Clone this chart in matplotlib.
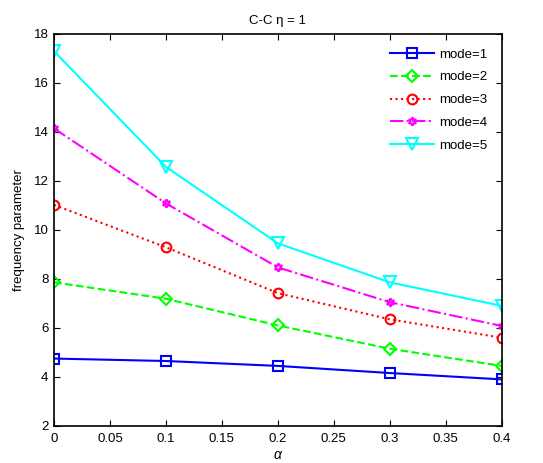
import matplotlib
matplotlib.use("Agg")
import matplotlib.pyplot as plt

plt.rcParams['font.family'] = ['Liberation Sans', 'DejaVu Sans']

alpha = [0, 0.1, 0.2, 0.3, 0.4]
mode1 = [4.75, 4.65, 4.45, 4.16, 3.90]
mode2 = [7.86, 7.19, 6.10, 5.15, 4.45]
mode3 = [11.02, 9.29, 7.42, 6.35, 5.60]
mode4 = [14.14, 11.08, 8.47, 7.05, 6.08]
mode5 = [17.29, 12.57, 9.45, 7.86, 6.90]
labels = ['mode=1', 'mode=2', 'mode=3', 'mode=4', 'mode=5']
xticks = [0, 0.05, 0.1, 0.15, 0.2, 0.25, 0.3, 0.35, 0.4]
xticklabels = ['0', '0.05', '0.1', '0.15', '0.2', '0.25', '0.3', '0.35', '0.4']
yticks = [2, 4, 6, 8, 10, 12, 14, 16, 18]

fig = plt.figure(figsize=(5.43, 4.63), dpi=100)
ax = fig.add_axes([0.0995, 0.080, 0.8245, 0.847])

styles = [
    dict(color='#0000ff', linestyle='-', marker='s'),
    dict(color='#00ff00', linestyle='--', marker='D', markersize=6),
    dict(color='#ff0000', linestyle=':', marker='o'),
    dict(color='#ff00ff', linestyle='-.', marker=(6, 1, 0), markersize=6),
    dict(color='#00ffff', linestyle='-', marker='v', markersize=8),
]
for ys, lab, st in zip([mode1, mode2, mode3, mode4, mode5], labels, styles):
    kw = dict(linewidth=1.5, markerfacecolor='none', markeredgewidth=1.5, markersize=7)
    kw.update(st)
    ax.plot(alpha, ys, label=lab, **kw)

ax.set_xlim(0, 0.4)
ax.set_ylim(2, 18)
ax.set_xticks(xticks)
ax.set_xticklabels(xticklabels)
ax.set_yticks(yticks)
ax.tick_params(direction='in', top=True, right=True, labelsize=9.5, length=4, width=0.8)
ax.tick_params(axis='x', pad=5)
ax.tick_params(axis='y', pad=4)
for s in ax.spines.values():
    s.set_linewidth(1.2)
ax.set_title('C-C η = 1', fontsize=9.5, pad=7)
ax.set_xlabel('α', fontsize=10, style='italic', labelpad=2)
ax.set_ylabel('frequency parameter', fontsize=9.5, labelpad=6)
ax.legend(loc='upper right', fontsize=9.5, frameon=False, handlelength=3.3,
          handletextpad=0.4, borderaxespad=0.7, labelspacing=0.8)

fig.savefig('out.png', dpi=100)
